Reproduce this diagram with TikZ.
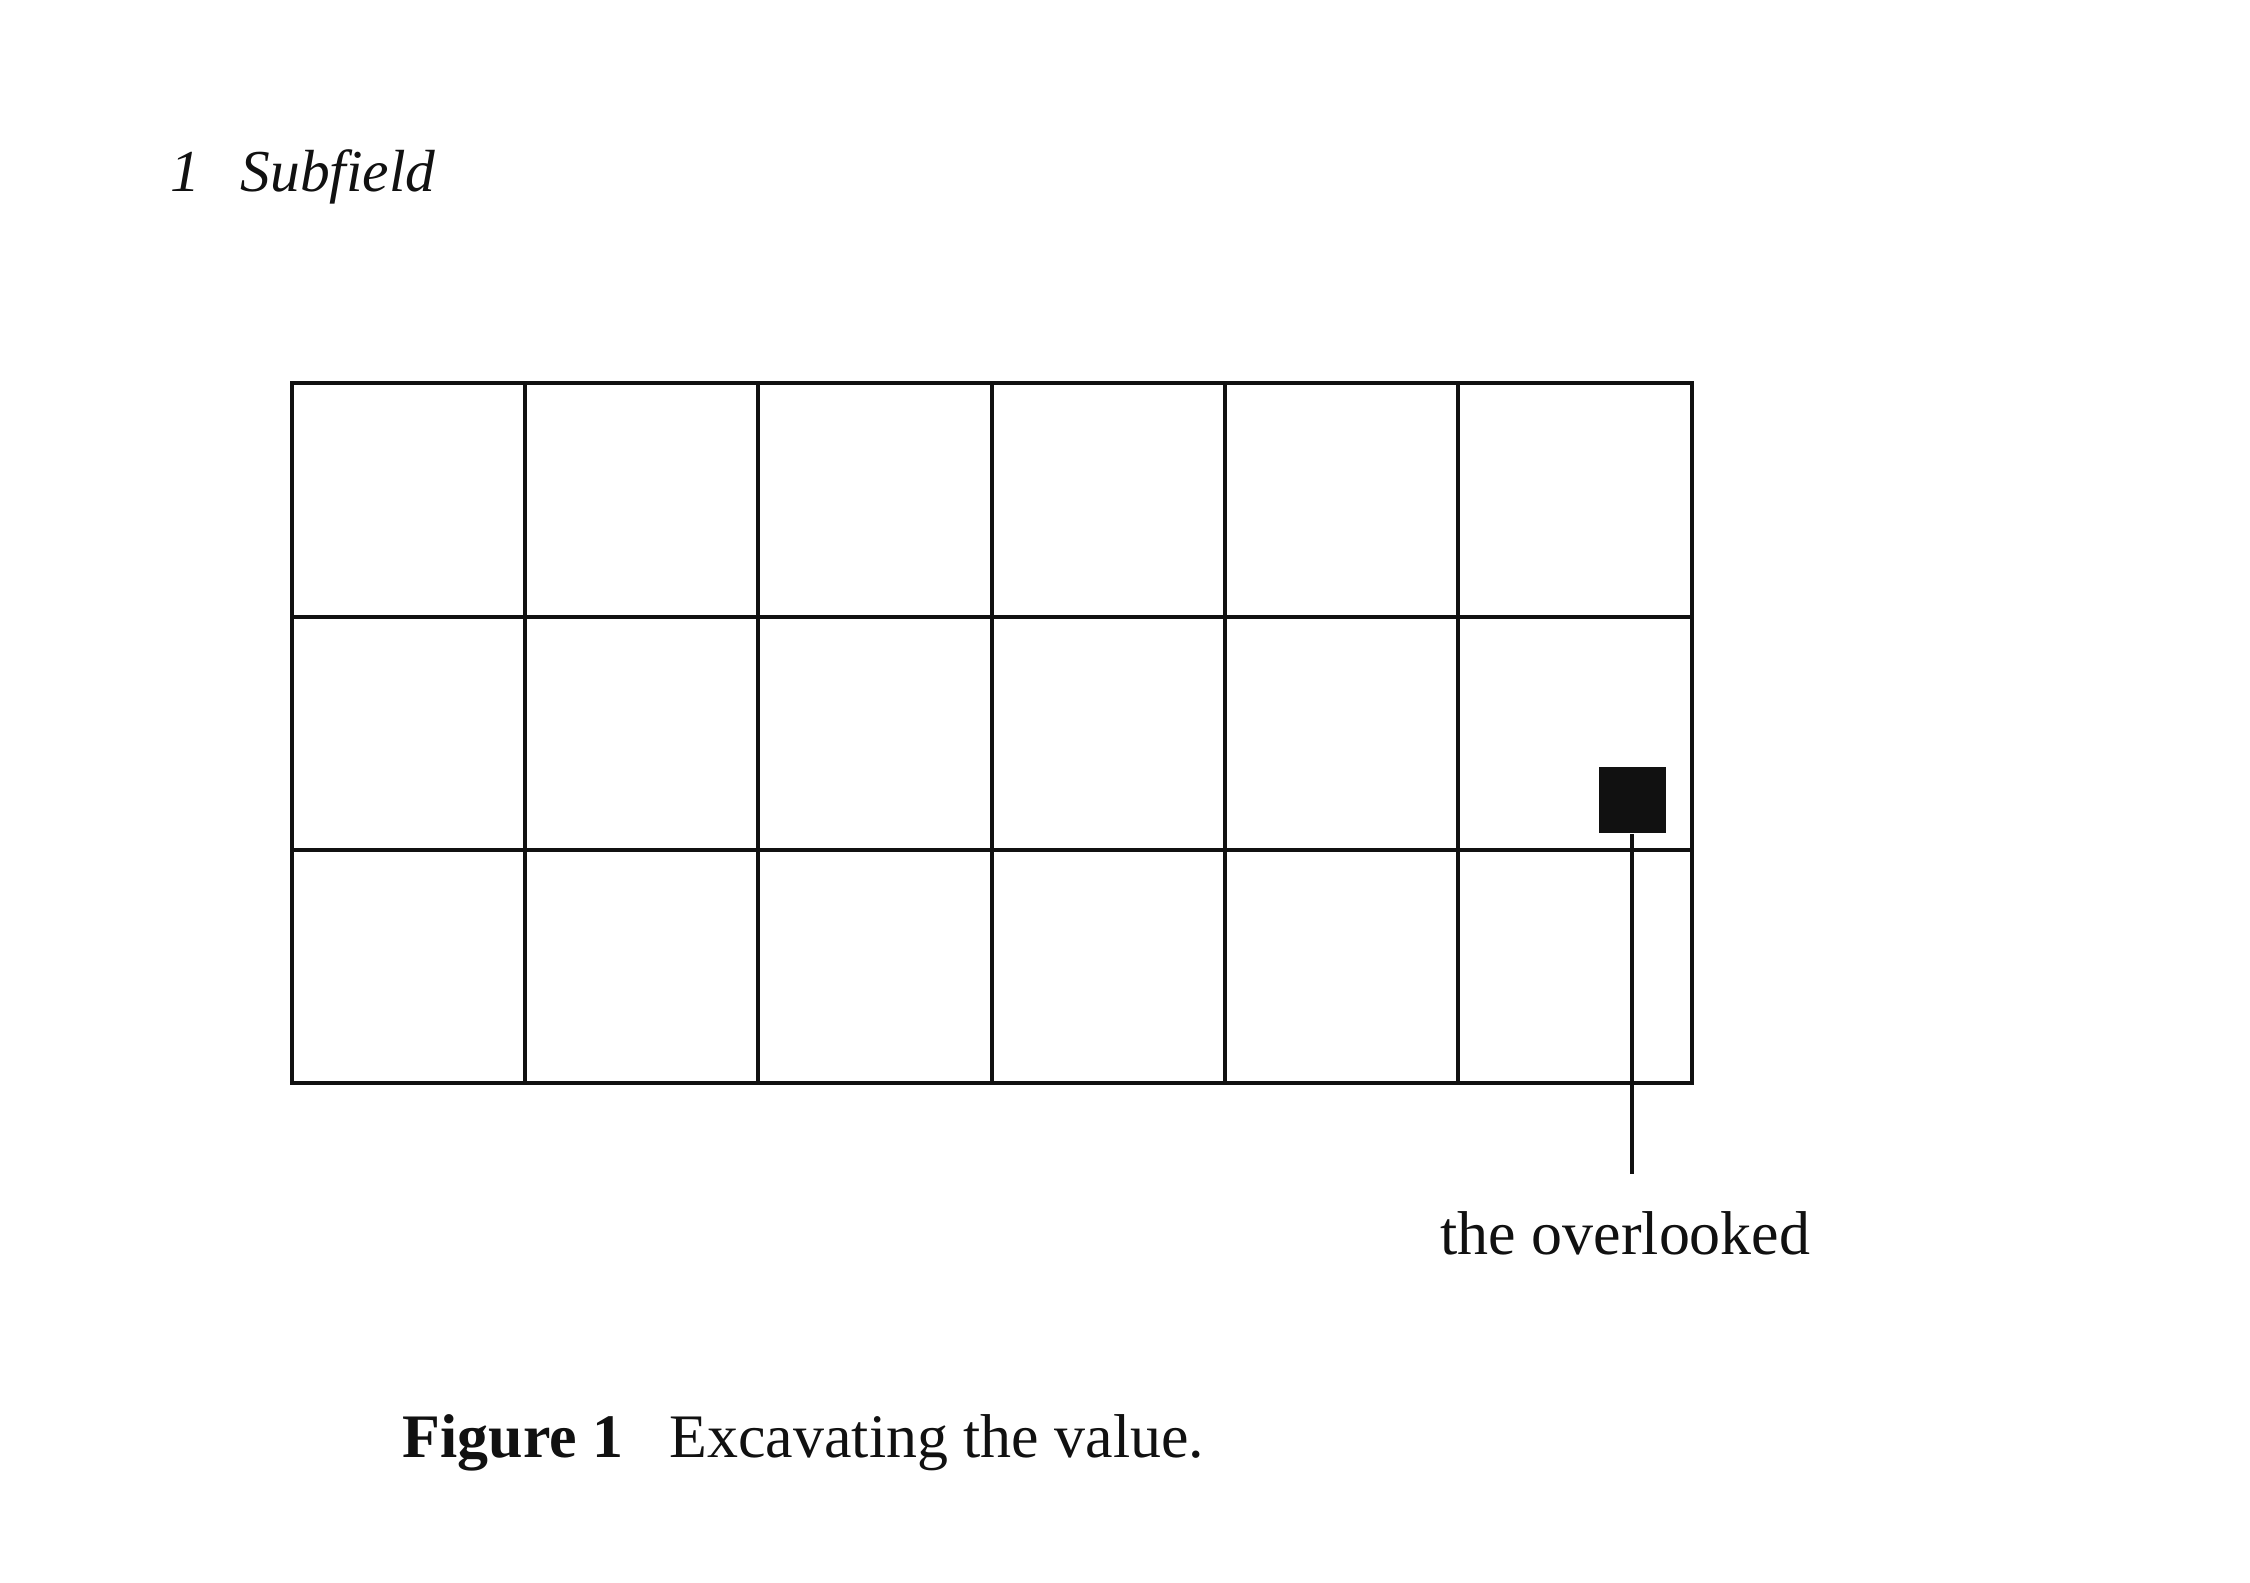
\documentclass[tikz,border=0pt]{standalone}
\usepackage{fontspec}
\setmainfont{Liberation Serif}
\definecolor{ink}{HTML}{111111}
\begin{document}
\begin{tikzpicture}[x=0.01cm,y=-0.01cm,
  gridline/.style={draw=ink,line width=1.1pt},
  txt/.style={inner sep=0pt,anchor=base west,text=ink,font=\fontsize{17.6}{20}\selectfont},
  captxt/.style={txt,font=\fontsize{17.6}{20}\selectfont},
  headtxt/.style={txt,font=\fontsize{16.9}{20}\selectfont\itshape},
  marker/.style={fill=ink,draw=none,minimum size=0.667cm,inner sep=0pt}]
\useasboundingbox[fill=white] (0,0) rectangle (2250,1583);
% header
\node[headtxt] (num) at (170,192) {1};
\node[headtxt] (head) at (240,192) {Subfield};
% grid
\coordinate (gtl) at (291.7,383.3);
\coordinate (gbr) at (1691.7,1083.3);
\draw[gridline] (gtl) rectangle (gbr);
\foreach \i in {1,...,5}{
  \draw[gridline] (291.7+233.33*\i,383.3) -- (291.7+233.33*\i,1083.3);
}
\foreach \j in {1,2}{
  \draw[gridline] (291.7,383.3+233.33*\j) -- (1691.7,383.3+233.33*\j);
}
% marker and label
\node[marker] (dot) at (1632.3,800) {};
\coordinate (stemend) at (1632.3,1174);
\draw[gridline] (dot.south) -- (stemend);
\node[txt] (lbl) at (1440,1255) {the overlooked};
% caption
\node[captxt,font=\fontsize{17.6}{20}\selectfont\bfseries] (fig) at (402,1458) {Figure 1};
\node[captxt] (cap) at (669,1458) {Excavating the value.};
\end{tikzpicture}
\end{document}
